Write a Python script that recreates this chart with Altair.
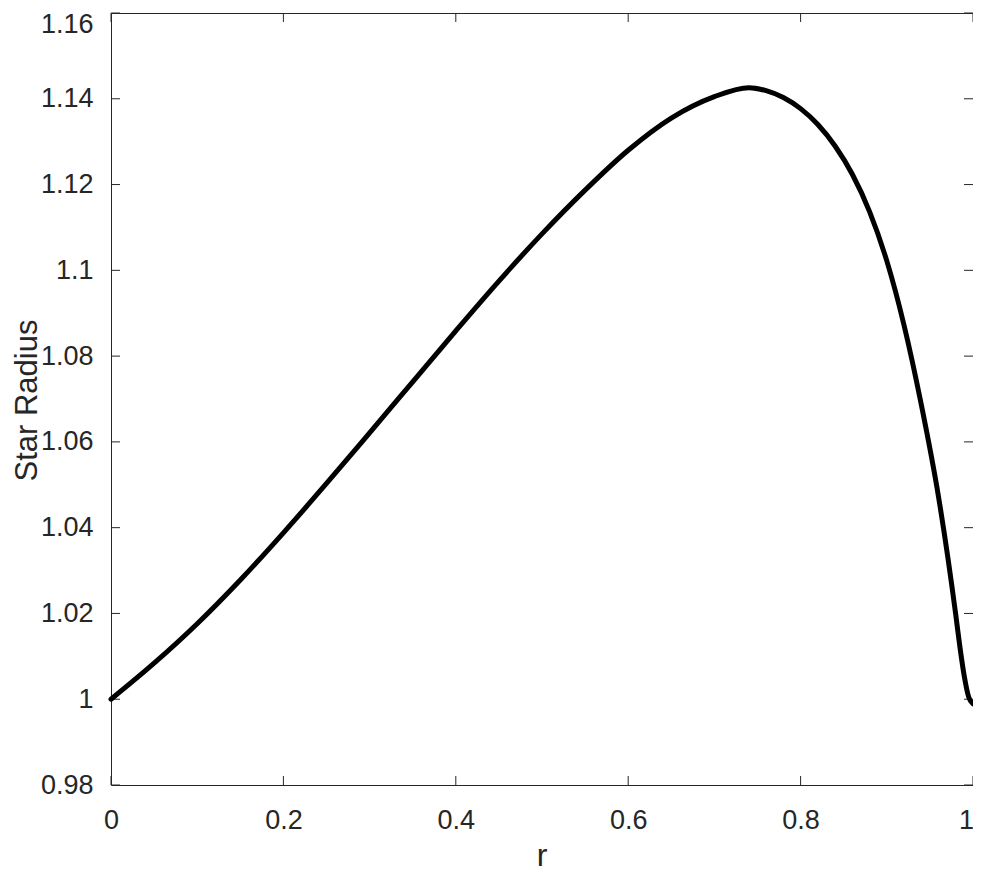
import altair as alt
import pandas as pd

# Curve values
r_vals = [0.0, 0.05, 0.10, 0.15, 0.20, 0.25, 0.30, 0.35, 0.40, 0.45, 0.50, 0.55,
          0.60, 0.65, 0.70, 0.74, 0.76, 0.78, 0.80, 0.82, 0.84, 0.86, 0.88, 0.90,
          0.92, 0.94, 0.96, 0.98, 0.985, 0.99, 0.995, 1.0]
radius_vals = [1.0000, 1.0084, 1.0176, 1.0278, 1.0388, 1.0503, 1.0621, 1.0740, 1.0859,
               1.0975, 1.1085, 1.1187, 1.1280, 1.1355, 1.1405, 1.1426, 1.1419, 1.1403,
               1.1377, 1.1340, 1.1290, 1.1224, 1.1137, 1.1022, 1.0872, 1.0687, 1.0472,
               1.0197, 1.0119, 1.0052, 1.0005, 0.9989]

x_ticks = [0, 0.2, 0.4, 0.6, 0.8, 1.0]
y_ticks = [0.98, 1.00, 1.02, 1.04, 1.06, 1.08, 1.10, 1.12, 1.14, 1.16]

W, H = 862, 772
TICK = 9
FRAME = "#262626"
FONT = "Liberation Sans"

curve = pd.DataFrame({"r": r_vals, "v": radius_vals})
xt = pd.DataFrame({"r": x_ticks})
yt = pd.DataFrame({"v": y_ticks})

xscale = alt.Scale(domain=[0, 1], nice=False, zero=False)
yscale = alt.Scale(domain=[0.98, 1.16], nice=False, zero=False)

xaxis = alt.Axis(values=x_ticks, format="~g", ticks=False, domain=False, grid=False,
                 labelPadding=22, labelFontSize=27, labelFont=FONT, labelColor=FRAME,
                 labelOffset={"condition": {"test": "datum.value > 0.999", "value": -7},
                              "value": 0},
                 title="r", titleFontSize=32, titleFont=FONT, titleFontWeight="normal",
                 titleColor=FRAME, titleX=430.5, titleY=80, titleBaseline="alphabetic",
                 titleAlign="center", labelFlush=False)
yaxis = alt.Axis(values=y_ticks, format="~g", ticks=False, domain=False, grid=False,
                 labelPadding=18, labelFontSize=27, labelFont=FONT, labelColor=FRAME,
                 labelOffset={"condition": {"test": "datum.value > 1.159", "value": 11},
                              "value": 0},
                 title="Star Radius", titleFontSize=31, titleFont=FONT,
                 titleFontWeight="normal", titleColor=FRAME, titleX=-84, titleY=387,
                 titleAngle=270, titleBaseline="middle", titleAlign="center",
                 labelFlush=False)

X = alt.X("r:Q", scale=xscale, axis=xaxis)
Y = alt.Y("v:Q", scale=yscale, axis=yaxis)

line = alt.Chart(curve).mark_line(color="black", strokeWidth=5, interpolate="monotone",
                                  strokeCap="round").encode(x=X, y=Y)

ytick_left = alt.Chart(yt).mark_rule(color=FRAME, strokeWidth=1).encode(
    y=Y, x=alt.value(0), x2=alt.value(TICK))
ytick_right = alt.Chart(yt).mark_rule(color=FRAME, strokeWidth=1).encode(
    y=Y, x=alt.value(W - TICK), x2=alt.value(W))
xtick_bottom = alt.Chart(xt).mark_rule(color=FRAME, strokeWidth=1).encode(
    x=X, y=alt.value(H - TICK), y2=alt.value(H))
xtick_top = alt.Chart(xt).mark_rule(color=FRAME, strokeWidth=1).encode(
    x=X, y=alt.value(0), y2=alt.value(TICK))

chart = alt.layer(ytick_left, ytick_right, xtick_bottom, xtick_top, line).properties(
    width=W, height=H,
    background="white",
    autosize=alt.AutoSizeParams(type="none"),
    padding={"left": 103, "top": 5, "right": 0, "bottom": 86},
).configure_view(stroke=FRAME, strokeWidth=1)

chart.save("out.html", embed_options={"renderer": "svg", "actions": False})
